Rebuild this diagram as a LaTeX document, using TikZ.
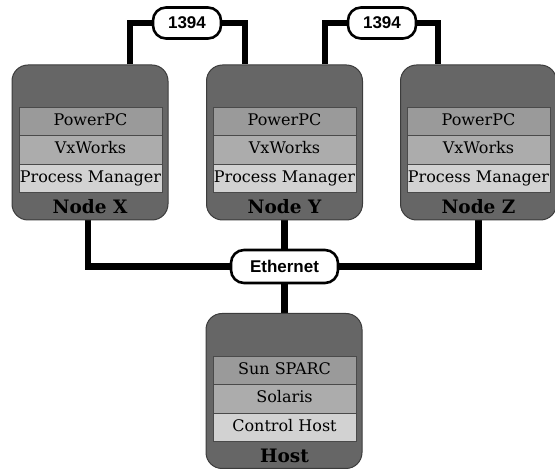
\documentclass[tikz,border=0pt]{standalone}
\usepackage{fontspec}
\newfontfamily\serifface{DejaVu Serif}
\newfontfamily\pillfont{Liberation Sans}
\usetikzlibrary{backgrounds}
\definecolor{outerg}{HTML}{666666}
\definecolor{edgeg}{HTML}{3C3C3C}
\definecolor{rowa}{HTML}{9A9A9A}
\definecolor{rowb}{HTML}{ACACAC}
\definecolor{rowc}{HTML}{D2D2D2}
\definecolor{rowedge}{HTML}{4A4A4A}
\begin{document}
\begin{tikzpicture}[x=1pt,y=-1pt,
  outerbox/.style={draw=edgeg, line width=1pt, fill=outerg, rounded corners=16pt,
    minimum width=156pt, minimum height=155pt, inner sep=0pt},
  layerbox/.style={draw=rowedge, line width=0.8pt, minimum width=143pt, minimum height=28.5pt,
    inner sep=0pt, text height=11.8pt, text depth=3.5pt, font=\serifface\fontsize{16}{18}\selectfont},
  nodelabel/.style={inner sep=0pt, text height=13.5pt, text depth=0pt, font=\serifface\fontsize{18.5}{20}\selectfont\bfseries},
  pill/.style={draw=black, line width=2.6pt, fill=white, rounded corners=13pt, inner sep=0pt,
    font=\pillfont\fontsize{17}{18}\selectfont\bfseries, text height=12pt, text depth=0.5pt},
  wire/.style={line width=6.5pt, line cap=butt, line join=miter}]
\useasboundingbox (0,0) rectangle (555,470);

% Node X
\node[outerbox] (nx) at (90,142.5) {};
\node[layerbox, fill=rowa] (nx1) at (90.5,121.2) {PowerPC};
\node[layerbox, fill=rowb] (nx2) at (90.5,149.7) {VxWorks};
\node[layerbox, fill=rowc] (nx3) at (90.5,178.2) {Process Manager};
\node[nodelabel] (nxl) at (90,206.5) {Node X};

% Node Y
\node[outerbox] (ny) at (284.5,142.5) {};
\node[layerbox, fill=rowa] (ny1) at (284.5,121.2) {PowerPC};
\node[layerbox, fill=rowb] (ny2) at (284.5,149.7) {VxWorks};
\node[layerbox, fill=rowc] (ny3) at (284.5,178.2) {Process Manager};
\node[nodelabel] (nyl) at (284.5,206.5) {Node Y};

% Node Z
\node[outerbox] (nz) at (478.5,142.5) {};
\node[layerbox, fill=rowa] (nz1) at (478.5,121.2) {PowerPC};
\node[layerbox, fill=rowb] (nz2) at (478.5,149.7) {VxWorks};
\node[layerbox, fill=rowc] (nz3) at (478.5,178.2) {Process Manager};
\node[nodelabel] (nzl) at (478.5,206.5) {Node Z};

% Host
\node[outerbox] (host) at (284,391) {};
\node[layerbox, fill=rowa] (h1) at (284.5,370.3) {Sun SPARC};
\node[layerbox, fill=rowb] (h2) at (284.5,398.8) {Solaris};
\node[layerbox, fill=rowc] (h3) at (284.5,427.3) {Control Host};
\node[nodelabel] (hl) at (284.5,455.5) {Host};

% Pills
\node[pill, minimum width=68pt, minimum height=31pt] (p1) at (187,23) {1394};
\node[pill, minimum width=68pt, minimum height=31pt] (p2) at (382,23) {1394};
\node[pill, minimum width=107pt, minimum height=33pt] (eth) at (284.5,266.5) {Ethernet};

% Wires
\begin{scope}[on background layer]
\draw[wire] ([xshift=40pt]nx.north) |- (p1.west);
\draw[wire] (p1.east) -| ([xshift=-39.5pt]ny.north);
\draw[wire] ([xshift=40.5pt]ny.north) |- (p2.west);
\draw[wire] (p2.east) -| ([xshift=-40.5pt]nz.north);
\draw[wire] ([xshift=-2pt]nx.south) |- (eth.west);
\draw[wire] (eth.east) -| (nz.south);
\draw[wire] (ny.south) -- (eth.north);
\draw[wire] (eth.south) -- (eth.south |- host.north);
\end{scope}
\end{tikzpicture}
\end{document}
